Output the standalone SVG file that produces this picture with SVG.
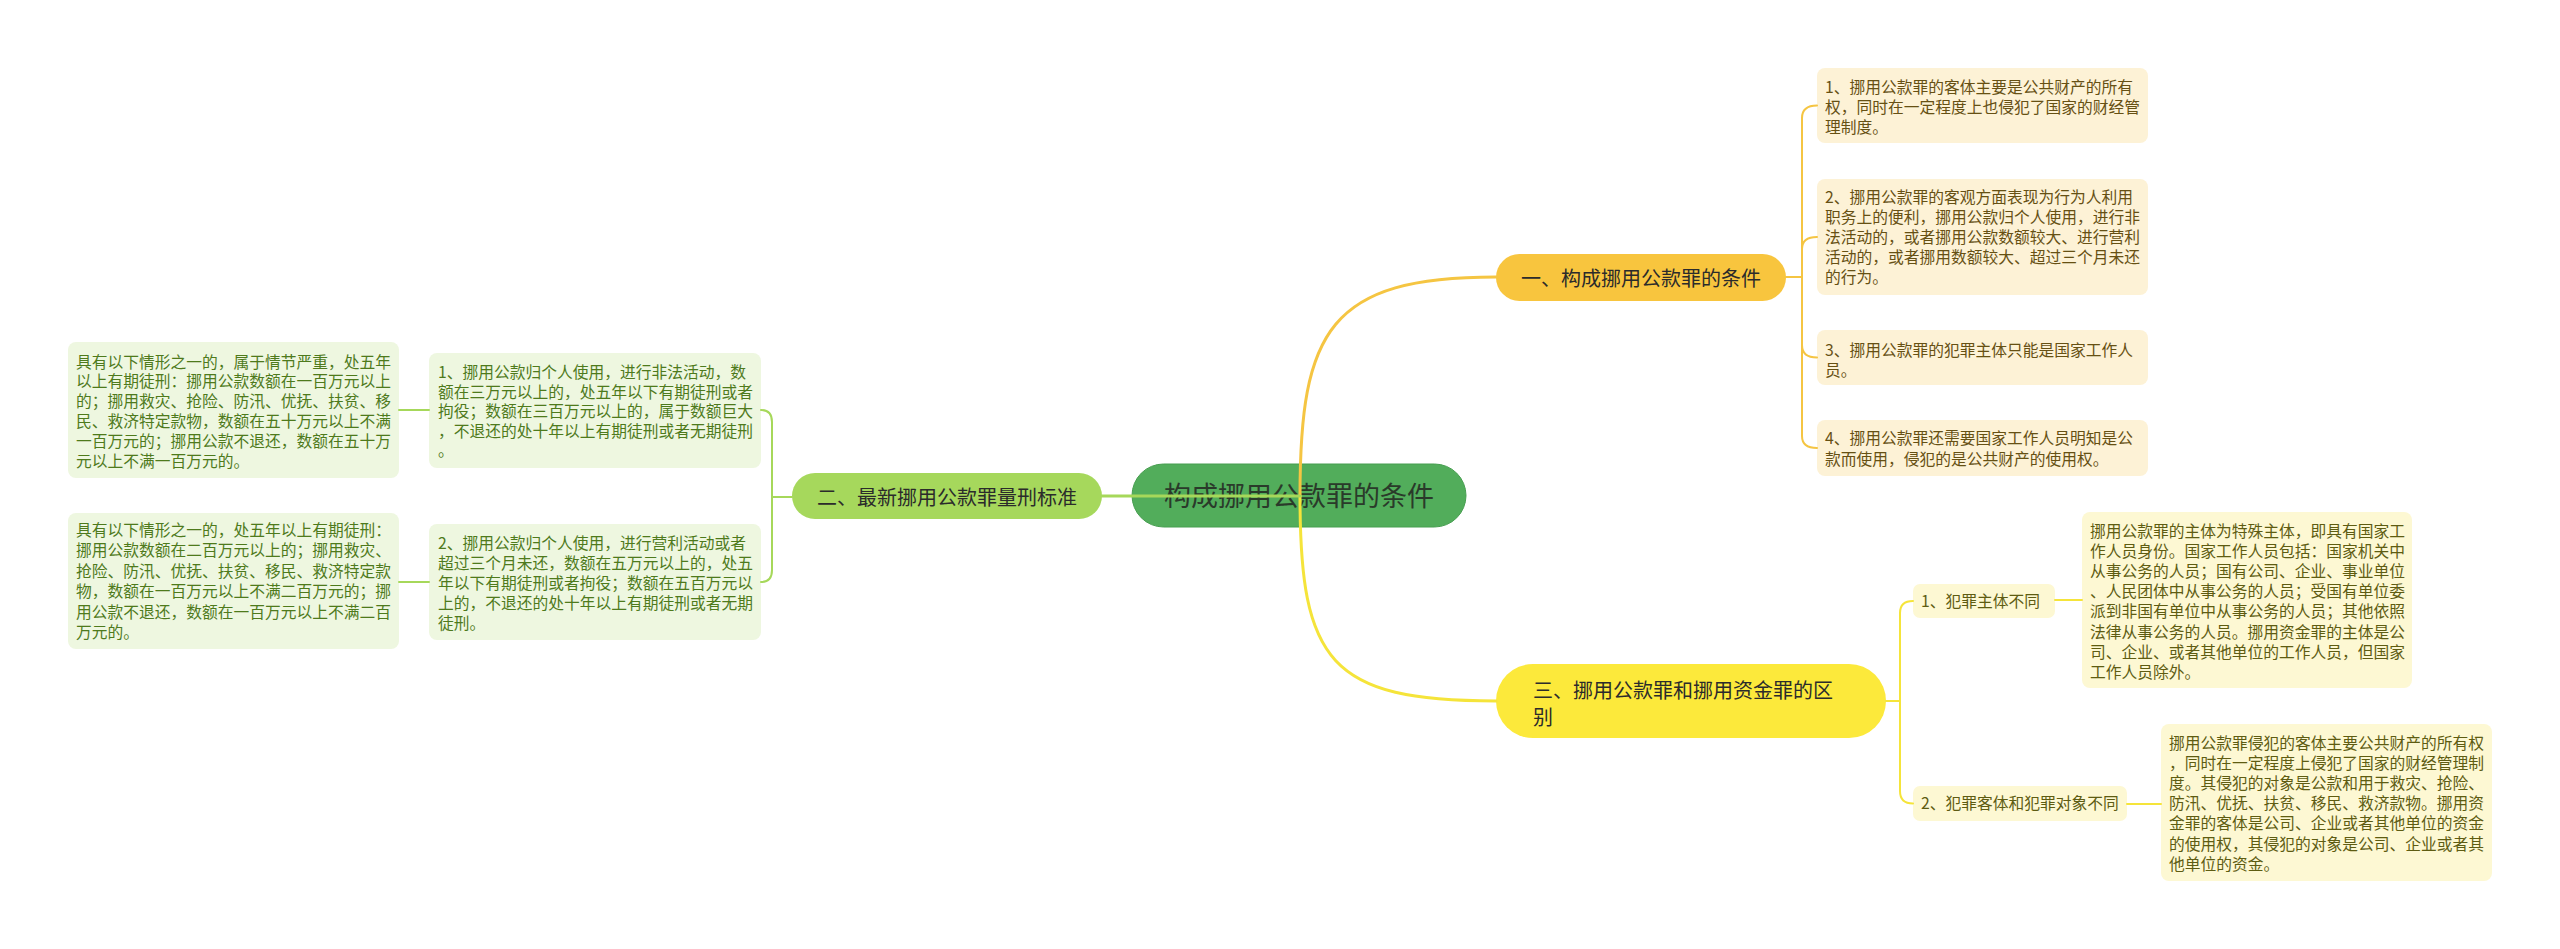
<svg xmlns="http://www.w3.org/2000/svg" width="2560" height="949" viewBox="0 0 2560 949">
<style>
text{font-family:"Noto Sans CJK SC","Noto Sans",sans-serif;}
.root{font-size:27px;fill:#2a3a2a;text-anchor:middle;}
.br{font-size:20px;fill:#2b2b2b;}
.lf{font-size:15.75px;}
.y1{fill:#fdf2d6;}
.t1{fill:#665013;}
.g1{fill:#eef7e0;}
.t2{fill:#4e7a1c;}
.s1{fill:#fdf8d3;}
.t3{fill:#5e5c12;}
.c{fill:none;stroke-linecap:round;}
.cy{stroke:#f5c542;}
.cg{stroke:#a6d85a;}
.cs{stroke:#f5e43a;}
</style>
<rect width="2560" height="949" fill="#ffffff"/>

<g id="root">
<rect x="1132" y="464" width="334" height="63" rx="31.5" fill="#52ad5b" stroke="#479e50" stroke-width="1"/>
<text class="root" x="1299" y="506">构成挪用公款罪的条件</text>
</g>

<g id="branch1">
<rect x="1496" y="254" width="290" height="47" rx="23.5" fill="#f8c53e"/>
<text class="br" x="1641" y="285.5" text-anchor="middle">一、构成挪用公款罪的条件</text>
</g>
<g id="b1-leaf1">
<rect class="y1" x="1817" y="68" width="331" height="75" rx="8"/>
<text class="lf t1" x="1825"><tspan x="1825" y="93">1、挪用公款罪的客体主要是公共财产的所有</tspan><tspan x="1825" y="113">权，同时在一定程度上也侵犯了国家的财经管</tspan><tspan x="1825" y="133">理制度。</tspan></text>
</g>
<g id="b1-leaf2">
<rect class="y1" x="1817" y="179" width="331" height="116" rx="8"/>
<text class="lf t1"><tspan x="1825" y="203">2、挪用公款罪的客观方面表现为行为人利用</tspan><tspan x="1825" y="223">职务上的便利，挪用公款归个人使用，进行非</tspan><tspan x="1825" y="243">法活动的，或者挪用公款数额较大、进行营利</tspan><tspan x="1825" y="263">活动的，或者挪用数额较大、超过三个月未还</tspan><tspan x="1825" y="283">的行为。</tspan></text>
</g>
<g id="b1-leaf3">
<rect class="y1" x="1817" y="330" width="331" height="55" rx="8"/>
<text class="lf t1"><tspan x="1825" y="356">3、挪用公款罪的犯罪主体只能是国家工作人</tspan><tspan x="1825" y="376">员。</tspan></text>
</g>
<g id="b1-leaf4">
<rect class="y1" x="1817" y="420" width="331" height="56" rx="8"/>
<text class="lf t1"><tspan x="1825" y="444">4、挪用公款罪还需要国家工作人员明知是公</tspan><tspan x="1825" y="465">款而使用，侵犯的是公共财产的使用权。</tspan></text>
</g>

<g id="branch2">
<rect x="792" y="473" width="310" height="46" rx="23" fill="#a6d85c"/>
<text class="br" x="947" y="504.5" text-anchor="middle">二、最新挪用公款罪量刑标准</text>
</g>
<g id="b2-leaf1">
<rect class="g1" x="429" y="353" width="332" height="115" rx="8"/>
<text class="lf t2"><tspan x="438" y="378">1、挪用公款归个人使用，进行非法活动，数</tspan><tspan x="438" y="397.6">额在三万元以上的，处五年以下有期徒刑或者</tspan><tspan x="438" y="417.2">拘役；数额在三百万元以上的，属于数额巨大</tspan><tspan x="438" y="436.8">，不退还的处十年以上有期徒刑或者无期徒刑</tspan><tspan x="438" y="456.4">。</tspan></text>
</g>
<g id="b2-leaf2">
<rect class="g1" x="429" y="524" width="332" height="116" rx="8"/>
<text class="lf t2"><tspan x="438" y="549">2、挪用公款归个人使用，进行营利活动或者</tspan><tspan x="438" y="569">超过三个月未还，数额在五万元以上的，处五</tspan><tspan x="438" y="589">年以下有期徒刑或者拘役；数额在五百万元以</tspan><tspan x="438" y="609">上的，不退还的处十年以上有期徒刑或者无期</tspan><tspan x="438" y="629">徒刑。</tspan></text>
</g>
<g id="b2-leaf1-sub">
<rect class="g1" x="68" y="342" width="331" height="136" rx="8"/>
<text class="lf t2"><tspan x="76" y="367.5">具有以下情形之一的，属于情节严重，处五年</tspan><tspan x="76" y="387.3">以上有期徒刑：挪用公款数额在一百万元以上</tspan><tspan x="76" y="407.1">的；挪用救灾、抢险、防汛、优抚、扶贫、移</tspan><tspan x="76" y="426.9">民、救济特定款物，数额在五十万元以上不满</tspan><tspan x="76" y="446.7">一百万元的；挪用公款不退还，数额在五十万</tspan><tspan x="76" y="466.5">元以上不满一百万元的。</tspan></text>
</g>
<g id="b2-leaf2-sub">
<rect class="g1" x="68" y="513" width="331" height="136" rx="8"/>
<text class="lf t2"><tspan x="76" y="536">具有以下情形之一的，处五年以上有期徒刑：</tspan><tspan x="76" y="556.4">挪用公款数额在二百万元以上的；挪用救灾、</tspan><tspan x="76" y="576.8">抢险、防汛、优抚、扶贫、移民、救济特定款</tspan><tspan x="76" y="597.2">物，数额在一百万元以上不满二百万元的；挪</tspan><tspan x="76" y="617.6">用公款不退还，数额在一百万元以上不满二百</tspan><tspan x="76" y="638">万元的。</tspan></text>
</g>

<g id="branch3">
<rect x="1496" y="664" width="390" height="74" rx="37" fill="#fce93b"/>
<text class="br"><tspan x="1533" y="697.5">三、挪用公款罪和挪用资金罪的区</tspan><tspan x="1533" y="724.5">别</tspan></text>
</g>
<g id="b3-child1">
<rect class="s1" x="1913" y="584" width="142" height="34" rx="7"/>
<text class="lf t3" x="1921" y="607">1、犯罪主体不同</text>
</g>
<g id="b3-child2">
<rect class="s1" x="1913" y="786" width="214" height="35" rx="7"/>
<text class="lf t3" x="1921" y="809">2、犯罪客体和犯罪对象不同</text>
</g>
<g id="b3-leaf1">
<rect class="s1" x="2082" y="512" width="330" height="176" rx="8"/>
<text class="lf t3"><tspan x="2090" y="537">挪用公款罪的主体为特殊主体，即具有国家工</tspan><tspan x="2090" y="557.1">作人员身份。国家工作人员包括：国家机关中</tspan><tspan x="2090" y="577.2">从事公务的人员；国有公司、企业、事业单位</tspan><tspan x="2090" y="597.3">、人民团体中从事公务的人员；受国有单位委</tspan><tspan x="2090" y="617.4">派到非国有单位中从事公务的人员；其他依照</tspan><tspan x="2090" y="637.5">法律从事公务的人员。挪用资金罪的主体是公</tspan><tspan x="2090" y="657.6">司、企业、或者其他单位的工作人员，但国家</tspan><tspan x="2090" y="677.7">工作人员除外。</tspan></text>
</g>
<g id="b3-leaf2">
<rect class="s1" x="2161" y="724" width="331" height="157" rx="8"/>
<text class="lf t3"><tspan x="2169" y="749">挪用公款罪侵犯的客体主要公共财产的所有权</tspan><tspan x="2169" y="769.1">，同时在一定程度上侵犯了国家的财经管理制</tspan><tspan x="2169" y="789.2">度。其侵犯的对象是公款和用于救灾、抢险、</tspan><tspan x="2169" y="809.3">防汛、优抚、扶贫、移民、救济款物。挪用资</tspan><tspan x="2169" y="829.4">金罪的客体是公司、企业或者其他单位的资金</tspan><tspan x="2169" y="849.5">的使用权，其侵犯的对象是公司、企业或者其</tspan><tspan x="2169" y="869.6">他单位的资金。</tspan></text>
</g>

<g id="connectors" class="c">
<path class="c cy" stroke-width="3" d="M1300,496 C1300,330 1330,277 1496,277"/>
<path class="c cs" stroke-width="3" d="M1300,496 C1300,662 1330,701 1496,701"/>
<path class="c cg" stroke-width="3" d="M1300,496 L1102,496"/>
<path class="c cy" stroke-width="2" d="M1786,277 H1802 M1802,277 V118 Q1802,105.5 1817,105.5 M1802,277 V249 Q1802,237 1817,237 M1802,277 V345 Q1802,357.5 1817,357.5 M1802,277 V436 Q1802,448 1817,448"/>
<path class="c cg" stroke-width="2" d="M792,497 H772 M772,497 V422 Q772,410 761,410 M772,497 V570 Q772,582 761,582 M429,410 H399 M429,582 H399"/>
<path class="c cs" stroke-width="2" d="M1886,701 H1900 M1900,701 V613 Q1900,601 1913,601 M1900,701 V791 Q1900,803.5 1913,803.5 M2055,600 H2082 M2127,804 H2161"/>
</g>
</svg>
